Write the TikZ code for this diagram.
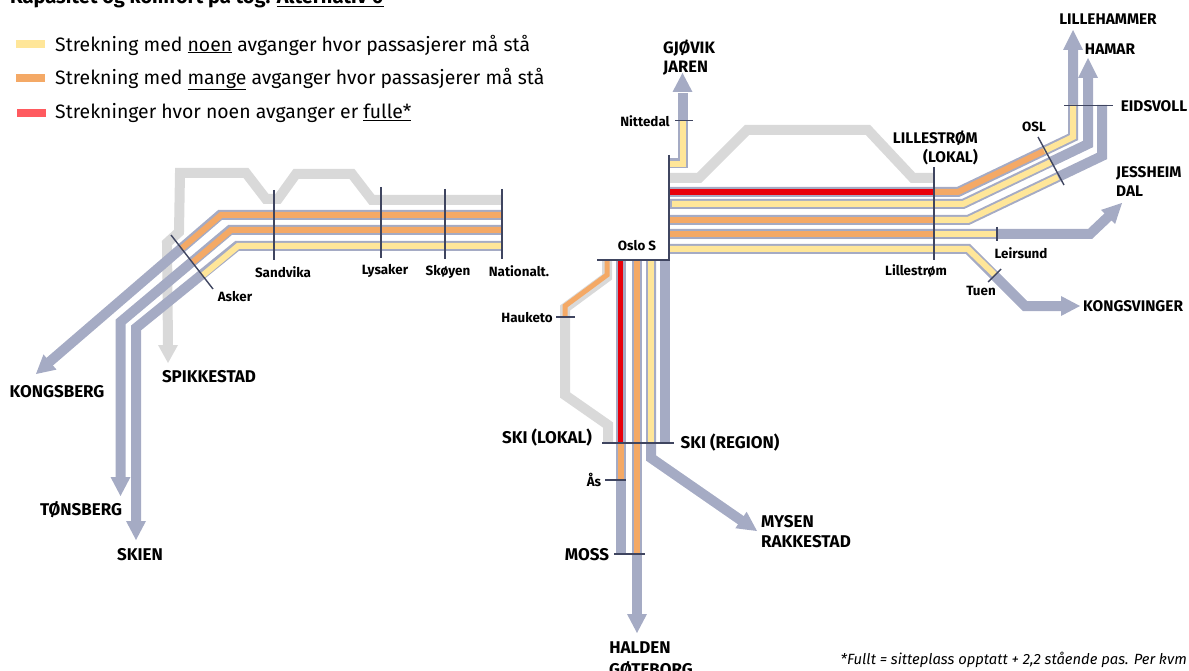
\documentclass[tikz,border=0pt]{standalone}
\usepackage{fontspec}
\setmainfont{Fira Sans}
\usetikzlibrary{calc}
\definecolor{railblue}{HTML}{A5ABC4}
\definecolor{railgrey}{HTML}{D9D9D9}
\definecolor{railyellow}{HTML}{FFE699}
\definecolor{railorange}{HTML}{F4A966}
\definecolor{railred}{HTML}{E8000B}
\definecolor{legred}{HTML}{FF5A5F}
\definecolor{tickcol}{HTML}{3F4560}
\tikzset{
  x=1pt,y=-1pt,
  blueline/.style={draw=railblue,line width=10pt,line join=miter},
  greyline/.style={draw=railgrey,line width=10pt,line join=miter},
  yellowline/.style={draw=railyellow,line width=6pt,line join=miter},
  orangeline/.style={draw=railorange,line width=6pt,line join=miter},
  redline/.style={draw=railred,line width=6pt},
  tick/.style={draw=tickcol,line width=1.4pt},
  big/.style={font=\fontsize{17}{20}\selectfont\bfseries,text=black,inner sep=0pt,align=left},
  bigtight/.style={font=\fontsize{15.4}{19}\selectfont\bfseries,text=black,inner sep=0pt,align=left},
  small/.style={font=\fontsize{13.4}{16}\selectfont\bfseries,text=black,inner sep=0pt,align=left},
  legendtext/.style={font=\fontsize{19.4}{23}\selectfont,text=black,anchor=west,inner sep=0pt},
}
\newcommand{\headb}[5]{% fill arrow head: tip x,y ; base centre x,y ; colour
  \fill[#5] ($(#3,#4)!1!90:($(#3,#4)!10pt!(#1,#2)$)$) -- (#1,#2) -- ($(#3,#4)!1!-90:($(#3,#4)!10pt!(#1,#2)$)$) -- cycle;}
\begin{document}
\begin{tikzpicture}
\useasboundingbox (0,0) rectangle (1189,671);
\begin{scope}
\clip (0,0) rectangle (1189,671);
\node[font=\fontsize{20}{22}\selectfont\bfseries,anchor=base west,inner sep=0pt] (title) at (10,4) {Kapasitet og komfort på tog: \underline{Alternativ 0}};
\node[font=\fontsize{17}{19}\selectfont\bfseries,anchor=base west,inner sep=0pt] (got) at (609,675) {GØTEBORG};
\end{scope}
% legend
\draw[draw=railyellow,line width=8pt] (16,44) -- (45,44);
\draw[draw=railorange,line width=8pt] (16,78) -- (45,78);
\draw[draw=legred,line width=8pt] (17,113) -- (46,113);
\node[legendtext] (l1) at (55,45) {Strekning med \underline{noen} avganger hvor passasjerer må stå};
\node[legendtext] (l2) at (55,79) {Strekning med \underline{mange} avganger hvor passasjerer må stå};
\node[legendtext] (l3) at (55,113.5) {Strekninger hvor noen avganger er \underline{fulle*}};
% WEST grey
\draw[greyline] (502,200) -- (372,200) -- (352,174) -- (296,174) -- (278,199) -- (266,199) -- (246,173) -- (180,173) -- (179,232) -- (167,243) -- (168,346);
\headb{168}{363}{168}{345}{railgrey}
% WEST lines
\draw[blueline] (502,215) -- (220,215) -- (47,364);
\headb{36}{374}{50}{362}{railblue}
\draw[orangeline] (502,215) -- (221,215) -- (181,249);
\draw[blueline] (502,230) -- (230,230) -- (120.5,322) -- (120.5,478);
\headb{120.5}{496}{120.5}{477}{railblue}
\draw[orangeline] (502,230) -- (231,230) -- (193,262);
\draw[blueline] (502,246) -- (237,246) -- (136,328) -- (136,522);
\headb{136}{540}{136}{521}{railblue}
\draw[yellowline] (502,246) -- (238,246) -- (202,276);
% EAST grey
\draw[greyline] (670,178) -- (699,178) -- (747,130) -- (868,130) -- (913,178) -- (934,178);
% Nittedal
\draw[blueline] (670,163.5) -- (682.5,163.5) -- (682.5,93);
\headb{682.5}{73}{682.5}{92}{railblue}
\draw[yellowline] (670,164) -- (682.5,164) -- (682.5,120);
% EAST lines
\draw[blueline] (670,192) -- (958,192) -- (1073,137) -- (1073,50);
\headb{1073}{30}{1073}{50}{railblue}
\draw[orangeline] (934,192) -- (958,192) -- (1044,151);
\draw[redline] (670,192) -- (934,192);
\draw[yellowline] (1044,151) -- (1073,137) -- (1073,105);
\draw[blueline] (670,204) -- (963,204) -- (1088,144) -- (1088,78);
\headb{1088}{58}{1088}{78}{railblue}
\draw[yellowline] (672,204) -- (963,204) -- (1051,162);
\draw[blueline] (670,220) -- (968,220) -- (1102,156) -- (1102,105);
\draw[orangeline] (670,220) -- (934,220);
\draw[yellowline] (934,220) -- (968,220) -- (1058,177);
\draw[blueline] (670,234) -- (1090,234) -- (1109,216);
\headb{1122}{203}{1108}{217}{railblue}
\draw[orangeline] (670,234) -- (934,234);
\draw[yellowline] (934,234) -- (997,234);
\draw[blueline] (670,249) -- (968,249) -- (1025,306) -- (1062,306);
\headb{1080}{306}{1061}{306}{railblue}
\draw[yellowline] (670,249) -- (968,249) -- (995,275);
% SOUTH grey
\draw[greyline] (607,260) -- (607,277) -- (565,308) -- (565,395) -- (608,425) -- (608,443);
\draw[orangeline,line width=5pt] (607,260) -- (607,275) -- (565,306) -- (565,317);
% SOUTH lines
\draw[blueline] (621,260) -- (621,554);
\draw[redline,line width=5pt] (620.5,260) -- (620.5,443);
\draw[orangeline] (621,443) -- (621,480);
\draw[blueline] (637,260) -- (637,615);
\headb{637}{633}{637}{614}{railblue}
\draw[orangeline] (637,260) -- (637,554);
\draw[blueline] (651,260) -- (651,458) -- (742,521);
\headb{757}{531}{741}{520}{railblue}
\draw[yellowline] (651,260) -- (651,443);
\draw[blueline] (665,260) -- (665,443);
% ticks
\coordinate (oslotop) at (669,155); \coordinate (oslocorner) at (669,260); \coordinate (osloleft) at (597,260);
\draw[tick] (oslotop) -- (oslocorner) -- (osloleft);
\draw[tick] (171,235) -- (213,289);
\draw[tick] (274,190) -- (274,260);
\draw[tick] (381,187) -- (381,258);
\draw[tick] (445,189) -- (445,259);
\draw[tick] (502,189) -- (502,259);
\draw[tick] (675,120.5) -- (693,120.5);
\draw[tick] (934,167) -- (934,260);
\draw[tick] (1038,137) -- (1064,185);
\draw[tick] (1064,105.5) -- (1113,105.5);
\draw[tick] (997,227) -- (997,241);
\draw[tick] (988,282) -- (1001,269);
\draw[tick] (556,317) -- (575,317);
\draw[tick] (602,443) -- (674,443);
\draw[tick] (605,480) -- (626,480);
\draw[tick] (614,554) -- (645,554);
% labels
\node[small,anchor=center] (asker) at (235,296.5) {Asker};
\node[small,anchor=center] (sandvika) at (283,272.5) {Sandvika};
\node[small,anchor=center] (lysaker) at (385,270.5) {Lysaker};
\node[small,anchor=center] (skoyen) at (448,271.5) {Skøyen};
\node[small,anchor=center] (nat) at (519,271.5) {Nationalt.};
\node[big,anchor=center] (kongsberg) at (57,391.5) {KONGSBERG};
\node[big,anchor=center] (spikkestad) at (209,376.5) {SPIKKESTAD};
\node[big,anchor=center] (tonsberg) at (81,509.5) {TØNSBERG};
\node[big,anchor=center] (skien) at (140,554.5) {SKIEN};
\node[small,anchor=center] (oslos) at (637,246) {Oslo S};
\node[small,anchor=center] (hauketo) at (527,318) {Hauketo};
\node[small,anchor=center] (nittedal) at (645,121) {Nittedal};
\node[big,font=\fontsize{16.5}{19}\selectfont\bfseries,anchor=north west] (gjovik) at (663,40) {GJØVIK\\JAREN};
\node[bigtight,anchor=north east,align=right] (lill) at (978,131) {LILLESTRØM\\(LOKAL)};
\node[small,anchor=center] (lillestrom) at (916,271) {Lillestrøm};
\node[small,anchor=center] (leirsund) at (1021,253) {Leirsund};
\node[small,anchor=center] (tuen) at (981,291) {Tuen};
\node[small,anchor=center] (osl) at (1034,127) {OSL};
\node[bigtight,anchor=center] (lh) at (1108,19) {LILLEHAMMER};
\node[bigtight,anchor=center] (hamar) at (1110,49) {HAMAR};
\node[bigtight,anchor=center] (eidsvoll) at (1154,106) {EIDSVOLL};
\node[bigtight,anchor=north west] (jess) at (1116,166) {JESSHEIM\\DAL};
\node[bigtight,anchor=west] (kongsv) at (1083,306) {KONGSVINGER};
\node[big,anchor=center] (skil) at (547,437.5) {SKI (LOKAL)};
\node[big,anchor=center] (skir) at (730,442.5) {SKI (REGION)};
\node[small,anchor=center] (aas) at (594,480) {Ås};
\node[big,anchor=center] (moss) at (587,554.5) {MOSS};
\node[big,anchor=north west] (mysen) at (761,515) {MYSEN\\RAKKESTAD};
\node[big,anchor=center] (halden) at (640,647.5) {HALDEN};
\node[font=\fontsize{14.8}{17}\selectfont\itshape,anchor=east,inner sep=0pt] (foot) at (1187,660) {*Fullt = sitteplass opptatt + 2,2 stående pas. Per kvm};
\end{tikzpicture}
\end{document}
